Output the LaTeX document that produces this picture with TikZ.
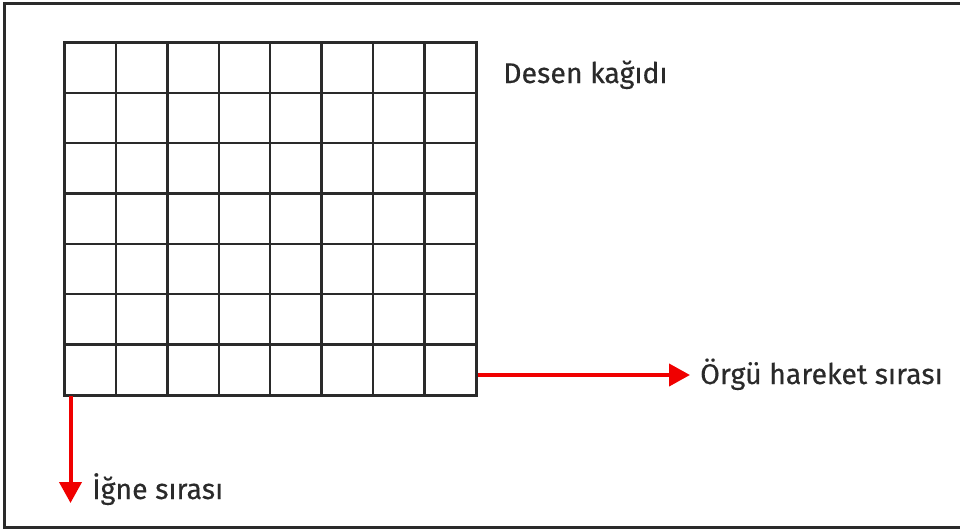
\documentclass[tikz,border=0pt]{standalone}
\usepackage{fontspec}
\setmainfont{Fira Sans}
\newfontfamily\lblfont{Fira Sans}[FakeBold=0.35]
\usetikzlibrary{arrows.meta,calc}
\definecolor{ink}{HTML}{2A2A2A}
\definecolor{arrowred}{HTML}{F00000}
\begin{document}
\begin{tikzpicture}[x=1pt,y=-1pt,
  gridline/.style={draw=ink,line width=2.4pt},
  redarrow/.style={draw=arrowred,line width=4pt,-{Triangle[length=21pt,width=22pt,fill=arrowred]}},
  lbl/.style={anchor=base west,inner sep=0pt,text=ink,font=\lblfont\fontsize{28.5}{32}\selectfont}]
\useasboundingbox (0,0) rectangle (960,531);
\fill[white] (0,0) rectangle (960,531);
\draw[ink,line width=3pt] (970,3) -- (4,3) -- (4,527) -- (970,527);
% grid
\node[draw=none,minimum width=411.5pt,minimum height=352.5pt,inner sep=0pt,anchor=north west] (grid) at (64.5,42.5) {};
\foreach \i in {1,...,7} \draw[gridline] ($(grid.north west)+(\i*51.4375,0)$) -- ++(0,352.5);
\foreach \j in {1,...,6} \draw[gridline] ($(grid.north west)+(0,\j*50.357)$) -- ++(411.5,0);
\draw[gridline] (grid.north west) rectangle (grid.south east);
% labels
\node[lbl] (paper) at (503,83) {Desen kağıdı};
\node[lbl] (knit) at (700,384) {Örgü hareket sırası};
\node[lbl] (needle) at (92,499) {İğne sırası};
\coordinate (rs) at (477.5,375);
\coordinate (re) at (690,375);
\coordinate (ds) at (70.5,396);
\coordinate (de) at (70.5,503);
\draw[redarrow] (rs) -- (re);
\draw[redarrow] (ds) -- (de);
\end{tikzpicture}
\end{document}
